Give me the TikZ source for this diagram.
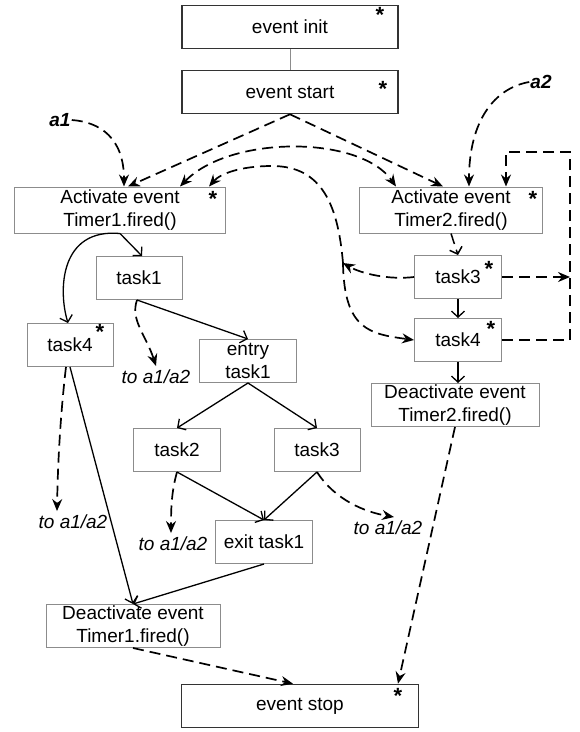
\documentclass[tikz,border=0pt]{standalone}
\usepackage{fontspec}
\setmainfont{Liberation Sans}
\usetikzlibrary{arrows.meta}

\begin{document}
\begin{tikzpicture}[x=1pt,y=-1pt,
    every node/.style={font=\fontsize{19}{23}\selectfont},
    evbox/.style={draw=black!80,line width=1.6pt,minimum width=216pt,minimum height=43pt,inner sep=0pt},
    tbox/.style={draw=black!45,line width=1pt,minimum height=43pt,inner sep=0pt,align=center},
    star/.style={font=\bfseries\fontsize{22}{22}\selectfont,inner sep=0pt},
    tolab/.style={font=\itshape\fontsize{19}{23}\selectfont,inner sep=0pt,outer sep=4pt},
    alab/.style={font=\bfseries\itshape\fontsize{19}{23}\selectfont,inner sep=1pt},
    dasharr/.style={dash pattern=on 11pt off 6pt,line width=1.7pt,-{Stealth[length=12pt,width=10pt,inset=4pt]}},
    dashboth/.style={dash pattern=on 11pt off 6pt,line width=1.7pt,{Stealth[length=12pt,width=10pt,inset=4pt]}-{Stealth[length=12pt,width=10pt,inset=4pt]}},
    dashopen/.style={dash pattern=on 11pt off 6pt,line width=1.5pt,-{Straight Barb[length=6pt,width=13pt]}},
    openarr/.style={line width=1.3pt,-{Straight Barb[length=6pt,width=13pt]}}
  ]

    \fill[white] (0,0) rectangle (580,732);
    \useasboundingbox (0,0) rectangle (580,732);

    %events
    \node[evbox] (init) at (290,27) {event init};
    \node[evbox] (start) at (290,92) {event start};
    \node[evbox,minimum width=237pt] (stop) at (300,706) {event stop};

    %Timer1 side
    \node[tbox,minimum width=211pt,minimum height=46pt] (act1) at (120,210) {Activate event\\Timer1.fired()};
    \node[tbox,minimum width=86pt] (task1) at (139,278) {task1};
    \node[tbox,minimum width=86pt] (task4one) at (70,345) {task4};
    \node[tbox,minimum width=97pt] (entry) at (248,361) {entry\\task1};
    \node[tbox,minimum width=87pt] (task2) at (177,450) {task2};
    \node[tbox,minimum width=86pt] (task3one) at (317,450) {task3};
    \node[tbox,minimum width=97pt] (exit) at (264,542) {exit task1};
    \node[tbox,minimum width=174pt] (deact1) at (133,626) {Deactivate event\\Timer1.fired()};

    %Timer2 side
    \node[tbox,minimum width=183pt,minimum height=46pt] (act2) at (451,210) {Activate event\\Timer2.fired()};
    \node[tbox,minimum width=87pt] (task3two) at (458,277) {task3};
    \node[tbox,minimum width=87pt] (task4two) at (458,340) {task4};
    \node[tbox,minimum width=168pt] (deact2) at (455,405) {Deactivate event\\Timer2.fired()};

    %stars
    \node[star] (s1) at (380,15) {*};
    \node[star] (s2) at (383,89) {*};
    \node[star] (s3) at (213,199) {*};
    \node[star] (s4) at (533,199) {*};
    \node[star] (s5) at (489,269) {*};
    \node[star] (s6) at (491,329) {*};
    \node[star] (s7) at (100,332) {*};
    \node[star] (s8) at (398,696) {*};

    %labels
    \node[alab] (a1) at (60,120) {a1};
    \node[alab] (a2) at (541,82) {a2};
    \node[tolab] (to1) at (156,377) {to a1/a2};
    \node[tolab] (to2) at (73,522) {to a1/a2};
    \node[tolab] (to3) at (173,544) {to a1/a2};
    \node[tolab] (to4) at (388,528) {to a1/a2};

    \coordinate (bus) at (343,263);
    \coordinate (rail3) at (570,277);

    %init - start
    \draw[line width=1pt,black!45] (init) -- (start);
    %start
    \draw[dasharr] (start.south) -- ([xshift=8pt]act1.north);
    \draw[dasharr] (start.south) -- ([xshift=-8pt]act2.north);
    %a1, a2
    \draw[dasharr] (a1.east) .. controls (100,122) and (124,138) .. ([xshift=4pt]act1.north);
    \draw[dasharr] (a2.west) .. controls (495,88) and (469,120) .. ([xshift=18pt]act2.north);
    %act1 - act2
    \draw[dashboth] ([xshift=60pt]act1.north) .. controls (230,135) and (360,135) .. ([xshift=-55pt]act2.north);
    %bus
    \draw[dasharr] (bus) .. controls (338,205) and (322,166) .. (272,166) .. controls (240,166) and (220,174) .. ([xshift=89pt]act1.north);
    \draw[dasharr] (bus) .. controls (344,330) and (370,334) .. (task4two.west);
    \draw[dasharr] (task3two.west) .. controls (390,280) and (362,274) .. (bus);
    %loop
    \draw[dasharr] (task3two.east) -- (rail3);
    \draw[dasharr] (task4two.east) -- (570,340) -- (570,152) -| ([xshift=55pt]act2.north);
    %Timer2 column
    \draw[dashopen] (act2.south) -- (task3two.north);
    \draw[openarr] (task3two) -- (task4two);
    \draw[openarr] (task4two.south) -- (task4two.south |- deact2.north);
    \draw[dasharr] (deact2.south) -- ([xshift=98pt]stop.north);

    %Timer1 column
    \draw[openarr] (act1.south) -- ([xshift=3pt]task1.north);
    \draw[openarr] (act1.south) .. controls (60,228) and (58,290) .. ([xshift=-2pt]task4one.north);
    \draw[openarr] ([xshift=-2pt]task1.south) -- (entry.north);
    \draw[dasharr] ([xshift=-2pt]task1.south) .. controls (130,320) and (146,335) .. (to1.north);
    \draw[openarr] (entry.south) -- (task2.north);
    \draw[openarr] (entry.south) -- (task3one.north);
    \draw[openarr] (task2.south) -- (exit.north);
    \draw[openarr] (task3one.south) -- (exit.north);
    \draw[dasharr] (task2.south) .. controls (172,490) and (171,505) .. ([xshift=-2pt]to3.north);
    \draw[dasharr] (task3one.south) .. controls (335,500) and (365,512) .. ([xshift=6pt]to4.north);
    \draw[dasharr] ([xshift=-4pt]task4one.south) .. controls (62,400) and (58,450) .. ([xshift=-16pt]to2.north);
    \draw[openarr] (task4one.south) -- (deact1.north);
    \draw[openarr] (exit.south) -- (deact1.north);
    \draw[dasharr] (deact1.south) -- ([xshift=-7pt]stop.north);

\end{tikzpicture}
\end{document}
